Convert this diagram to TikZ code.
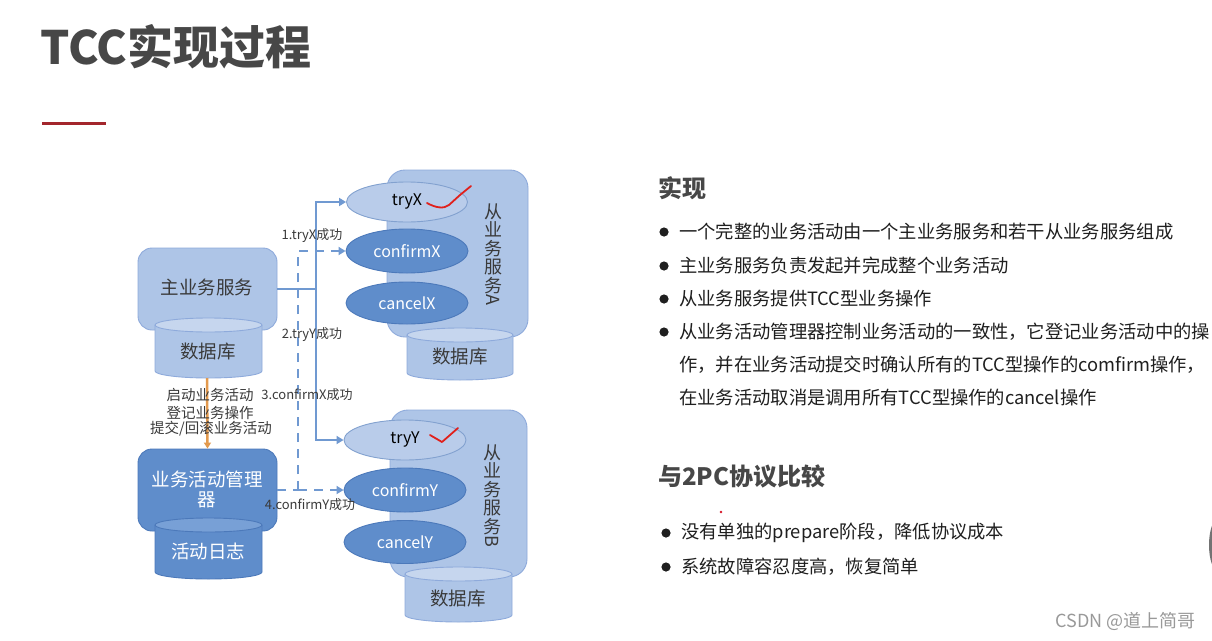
\documentclass[tikz,border=0pt]{standalone}
\usepackage{fontspec}
\setmainfont{Noto Sans CJK SC}
\usetikzlibrary{shapes.geometric,arrows.meta}
\definecolor{titlegray}{HTML}{474747}
\definecolor{darkred}{HTML}{A3262C}
\definecolor{lightfill}{HTML}{AEC5E7}
\definecolor{lightdraw}{HTML}{8EAADB}
\definecolor{lighttop}{HTML}{C6D6EE}
\definecolor{darkfill}{HTML}{5F8DCB}
\definecolor{darkdraw}{HTML}{4C79BA}
\definecolor{darktop}{HTML}{78A0D6}
\definecolor{ellfill}{HTML}{B9CCEA}
\definecolor{conncol}{HTML}{7099D1}
\definecolor{orangecol}{HTML}{E39A4E}
\definecolor{checkred}{HTML}{E0201C}
\definecolor{labelgray}{HTML}{3A3A3A}
\newcommand{\mycyl}[7]{%
  \fill[#5] ({#1-#2/2},#3) -- ({#1-#2/2},#4) arc[start angle=180,end angle=0,x radius=#2/2,y radius=7] -- ({#1+#2/2},#3) -- cycle;
  \draw[#6,line width=0.9pt] ({#1-#2/2},#3) -- ({#1-#2/2},#4) arc[start angle=180,end angle=0,x radius=#2/2,y radius=7] -- ({#1+#2/2},#3);
  \draw[#6,line width=0.9pt,fill=#7] (#1,#3) ellipse [x radius=#2/2,y radius=7];
}
\newcommand{\sidelet}[1]{\raisebox{0.2em}{\rotatebox[origin=c]{-90}{#1}}}
\tikzset{
  lightbox/.style={draw=lightdraw,fill=lightfill,line width=0.9pt,rounded corners=14pt,inner sep=0pt},
  darkbox/.style={draw=darkdraw,fill=darkfill,line width=0.9pt,rounded corners=14pt,inner sep=0pt,text=white},
  lightell/.style={ellipse,draw=darkdraw!70,fill=ellfill,line width=0.9pt,inner sep=0pt,font=\fontsize{16}{18}\selectfont},
  darkell/.style={ellipse,draw=darkdraw,fill=darkfill,line width=0.9pt,inner sep=0pt,text=white,font=\fontsize{16}{18}\selectfont},
  boxtext/.style={font=\fontsize{18.5}{20}\selectfont},
  vtext/.style={align=center,text=labelgray,font=\fontsize{18}{18.5}\selectfont,inner sep=0pt},
  conn/.style={draw=conncol,line width=2pt},
  dconn/.style={draw=conncol,line width=2pt,dash pattern=on 9pt off 7pt},
  tip/.style={-{Triangle[width=8pt,length=7pt]}},
  steplabel/.style={text=labelgray,font=\fontsize{13}{14}\selectfont,inner sep=0pt},
  actlabel/.style={text=labelgray,font=\fontsize{14.5}{16}\selectfont,inner sep=0pt},
  body/.style={anchor=west,inner sep=0pt,text=black!88,font=\fontsize{18.3}{20}\selectfont},
  heading/.style={anchor=west,inner sep=0pt,text=titlegray,font=\bfseries\fontsize{24}{26}\selectfont},
  check/.style={draw=checkred,line width=1.8pt,line cap=round,line join=round}
}
\begin{document}
\begin{tikzpicture}[x=1pt,y=-1pt]
\useasboundingbox[fill=white] (0,0) rectangle (1212,640);

% title
\node[anchor=west,inner sep=0pt,text=titlegray,font=\bfseries\fontsize{46}{50}\selectfont] (title) at (40,47) {TCC实现过程};
\draw[darkred,line width=3pt] (42,123) -- (106,123);

% main service
\node[lightbox,minimum width=139pt,minimum height=82pt] (main) at (207.5,289) {};
\node[boxtext,text=labelgray] (maintext) at (207,287) {主业务服务};
\mycyl{208.5}{107}{325}{371}{lightfill}{lightdraw}{lighttop}
\node[boxtext,text=labelgray] (db1) at (208,352) {数据库};

% manager
\node[darkbox,minimum width=139pt,minimum height=82pt] (mgr) at (207.5,490) {};
\node[boxtext,text=white,align=center] (mgrtext) at (207,489) {业务活动管理\\器};
\mycyl{208.5}{107}{525}{572}{darkfill}{darkdraw}{darktop}
\node[boxtext,text=white] (log) at (208,551) {活动日志};

\coordinate (db1bot) at (207,378);
\draw[orangecol,line width=2.5pt,-{Triangle[width=7pt,length=6pt]}] (db1bot) -- (mgr.north);
\node[actlabel] (a1) at (210,395) {启动业务活动};
\node[actlabel] (a2) at (210,413) {登记业务操作};
\node[actlabel] (a3) at (211,429) {提交/回滚业务活动};

% service A
\node[lightbox,rounded corners=18pt,minimum width=141pt,minimum height=167pt] (svcA) at (457.5,253.5) {};
\mycyl{460}{106}{335}{373}{lightfill}{lightdraw}{lighttop}
\node[boxtext,text=labelgray] (dbA) at (460,357) {数据库};
\node[lightell,minimum width=121pt,minimum height=40pt] (tryX) at (407,202) {tryX};
\node[darkell,minimum width=122pt,minimum height=44pt] (confirmX) at (407,251) {confirmX};
\node[darkell,minimum width=122pt,minimum height=42pt] (cancelX) at (407,303) {cancelX};
\node[vtext] (vA) at (493,257) {从\\业\\务\\服\\务\\\sidelet{A}};

% service B
\node[lightbox,rounded corners=18pt,minimum width=137pt,minimum height=167pt] (svcB) at (458.5,493.5) {};
\mycyl{458.5}{107}{574}{615}{lightfill}{lightdraw}{lighttop}
\node[boxtext,text=labelgray] (dbB) at (458,598) {数据库};
\node[lightell,minimum width=122pt,minimum height=40pt] (tryY) at (405,440) {tryY};
\node[darkell,minimum width=122pt,minimum height=44pt] (confirmY) at (405,490) {confirmY};
\node[darkell,minimum width=122pt,minimum height=43pt] (cancelY) at (405,542) {cancelY};
\node[vtext] (vB) at (492,498) {从\\业\\务\\服\\务\\\sidelet{B}};

% solid connectors
\coordinate (j1) at (316,289);
\draw[conn] (main.east) -- (j1);
\draw[conn,tip] (j1) |- (tryX.west);
\draw[conn,tip] (j1) |- (tryY.west);

% dashed connectors
\coordinate (j2) at (298,490);
\draw[dconn] (mgr.east) -- (j2);
\draw[dconn,tip] (j2) |- (confirmX.west);
\draw[dconn,tip] (j2) -- (confirmY.west);

% step labels
\node[steplabel] (l1) at (312,236) {1.tryX成功};
\node[steplabel] (l2) at (312,335) {2.tryY成功};
\node[steplabel] (l3) at (307,395) {3.confirmX成功};
\node[steplabel] (l4) at (310,505) {4.confirmY成功};

% red check marks
\draw[check] (427,203) .. controls (436,208) and (444,209) .. (449,205) -- (460,195) -- (471,186);
\draw[check] (430,435) -- (442,442) -- (458,428);

% right text
\node[heading] (h1) at (658,188) {实现};
\foreach \yy in {232,266,299,332} \fill[black!88] (664,\yy) circle (4.6);
\node[body] (t1) at (679,232) {一个完整的业务活动由一个主业务服务和若干从业务服务组成};
\node[body] (t2) at (679,266) {主业务服务负责发起并完成整个业务活动};
\node[body] (t3) at (679,299) {从业务服务提供TCC型业务操作};
\node[body] (t4) at (679,332) {从业务活动管理器控制业务活动的一致性，它登记业务活动中的操};
\node[body] (t5) at (679,365) {作，并在业务活动提交时确认所有的TCC型操作的comfirm操作，};
\node[body] (t6) at (679,398) {在业务活动取消是调用所有TCC型操作的cancel操作};

\node[heading] (h2) at (658,476) {与2PC协议比较};
\fill[checkred!70!purple] (721,512) circle (1.3);
\foreach \yy in {533,567} \fill[black!88] (666,\yy) circle (4.6);
\node[body] (u1) at (681,533) {没有单独的prepare阶段，降低协议成本};
\node[body] (u2) at (681,567) {系统故障容忍度高，恢复简单};

\node[anchor=east,inner sep=0pt,text=black!40,font=\fontsize{18}{20}\selectfont] (wm) at (1196,621) {CSDN @道上简哥};

\fill[black!55] (1218,545) ellipse [x radius=9,y radius=26];
\end{tikzpicture}
\end{document}
